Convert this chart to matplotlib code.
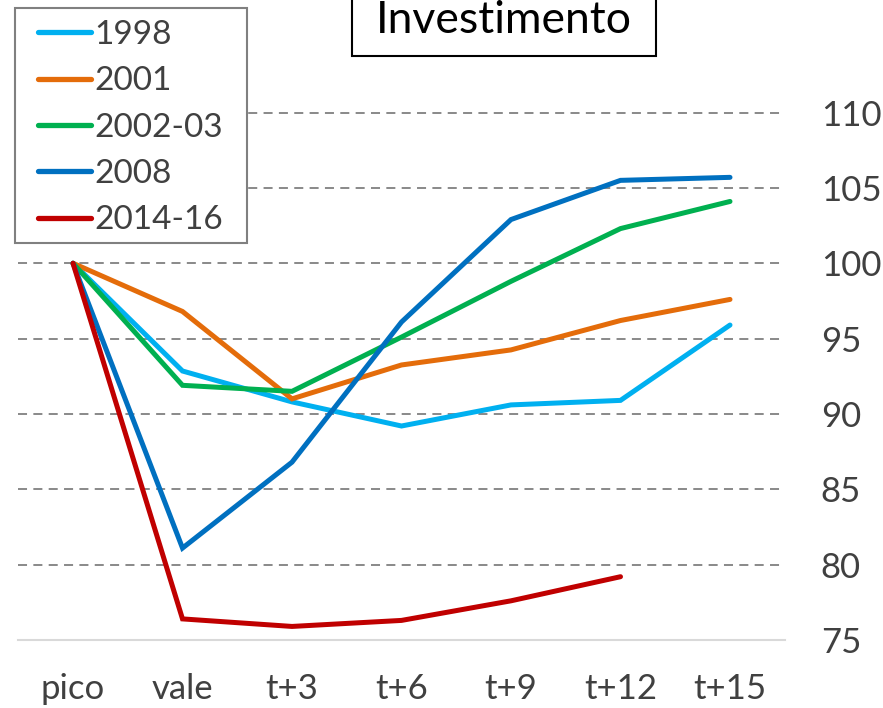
import matplotlib
matplotlib.use("Agg")
import matplotlib.pyplot as plt
from matplotlib.ticker import FixedLocator
from matplotlib.patches import Rectangle

plt.rcParams['font.family'] = ['Lato', 'DejaVu Sans']

categories = ["pico", "vale", "t+3", "t+6", "t+9", "t+12", "t+15"]
s1998 = [100, 92.85, 90.8, 89.2, 90.6, 90.9, 95.9]
s2001 = [100, 96.8, 91.0, 93.25, 94.25, 96.2, 97.6]
s2002 = [100, 91.9, 91.5, 95.1, 98.8, 102.3, 104.1]
s2008 = [100, 81.1, 86.8, 96.1, 102.9, 105.5, 105.7]
s2014 = [100, 76.4, 75.9, 76.3, 77.6, 79.2]
series_names = ["1998", "2001", "2002-03", "2008", "2014-16"]
yticks = [75, 80, 85, 90, 95, 100, 105, 110]
title = "Investimento"

colors = ["#00B0F0", "#E46C0A", "#00B050", "#0070C0", "#C00000"]
series = [s1998, s2001, s2002, s2008, s2014]

W, H = 883, 708
fig = plt.figure(figsize=(W / 100, H / 100), dpi=100)
left, right = 18.25 / W, 784.75 / W
bot = 1 - 640 / H
top = 1 - 37.2 / H
ax = fig.add_axes([left, bot, right - left, top - bot])

x = list(range(len(categories)))
for name, vals, c in zip(series_names, series, colors):
    ax.plot(x[:len(vals)], vals, color=c, lw=3.6, label=name,
            solid_capstyle='round', solid_joinstyle='miter', zorder=3)

ax.set_xlim(-0.5, len(categories) - 0.5)
ax.set_ylim(75, 115)
ax.set_xticks(x)
ax.set_xticklabels(categories)
ax.yaxis.set_major_locator(FixedLocator(yticks))
ax.yaxis.tick_right()
for yv in yticks[1:]:
    ax.axhline(yv, color="#808080", lw=1.3, ls=(0, (5, 3.5)), zorder=1)
ax.axhline(75, color="#D9D9D9", lw=1.5, zorder=2, clip_on=False)

for sp in ax.spines.values():
    sp.set_visible(False)
ax.tick_params(axis='both', length=0, labelsize=25, labelcolor="#404040")
ax.tick_params(axis='y', pad=26)
ax.tick_params(axis='x', pad=24)
for lab in ax.get_yticklabels():
    lab.set_horizontalalignment('left')

# legend frame drawn separately for exact padding
fig.patches.append(Rectangle((15 / W, 1 - 243 / H), (247 - 15) / W, (243 - 8) / H,
                             transform=fig.transFigure, fc='white', ec='#808080',
                             lw=1.5, zorder=4))
leg = ax.legend(loc='upper left', bbox_to_anchor=(38 / W, 1 - 20 / H),
                bbox_transform=fig.transFigure, frameon=False,
                fontsize=24, handlelength=1.6, handletextpad=0.1,
                labelspacing=0.49, borderpad=0.0, borderaxespad=0)
leg.set_zorder(5)
for t in leg.get_texts():
    t.set_color("#404040")
for l in leg.get_lines():
    l.set_linewidth(3.8)
leg.remove()
fig.add_artist(leg)

fig.patches.append(Rectangle((352 / W, 1 - 56 / H), (656 - 352) / W, 70 / H,
                             transform=fig.transFigure, fc='white', ec='black',
                             lw=1.5, zorder=5))
fig.text(504 / W, 1 - 33 / H, title, ha='center', va='baseline', fontsize=32,
         color='black', zorder=6)

fig.savefig("out.png", dpi=100)
